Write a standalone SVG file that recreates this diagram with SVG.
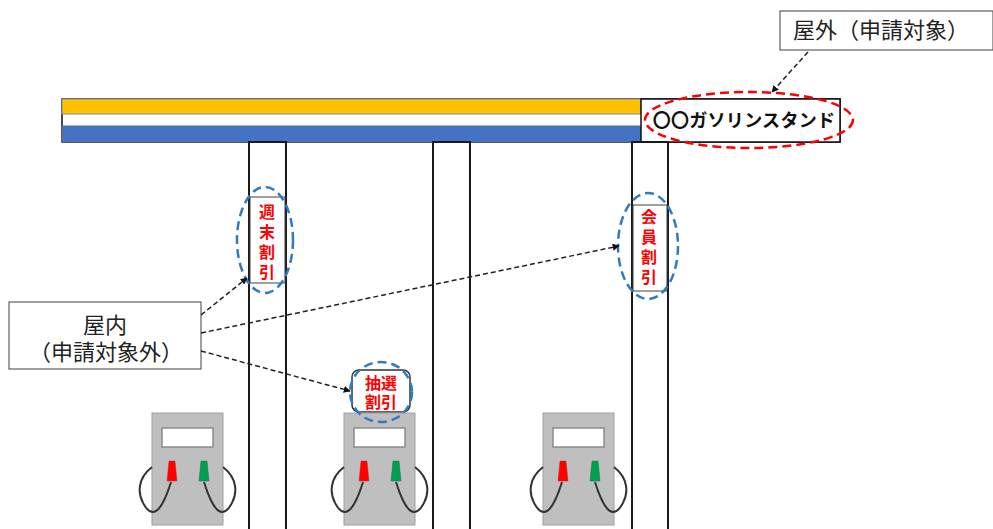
<svg xmlns="http://www.w3.org/2000/svg" width="993" height="529" viewBox="0 0 993 529">
  <style>
    .jp { font-family: "Noto Sans CJK JP", "Noto Sans", sans-serif; }
    .pillar { fill: #ffffff; stroke: #1a1a1a; stroke-width: 2; }
    .tag { fill: #ffffff; stroke: #404040; stroke-width: 1; }
    .tagtxt { fill: #ff0000; font-size: 16px; font-weight: bold; }
    .vert { writing-mode: vertical-rl; letter-spacing: 4px; }
    .box { fill: #ffffff; stroke: #404040; stroke-width: 1; }
    .boxtxt { fill: #222222; font-size: 22px; }
    .pump { fill: #bfbfbf; stroke: #a0a0a0; stroke-width: 1; }
    .screen { fill: #ffffff; stroke: #8c8c8c; stroke-width: 1.5; }
    .hose { fill: none; stroke: #333333; stroke-width: 2; }
    .blue-ring { fill: none; stroke: #2e7bc4; stroke-width: 2.5; stroke-dasharray: 9 5; }
    .red-ring { fill: none; stroke: #ff0000; stroke-width: 2.5; stroke-dasharray: 9 5; }
    .conn { fill: none; stroke: #222222; stroke-width: 1.5; stroke-dasharray: 5 3; }
  </style>
  <defs>
    <marker id="arrow" viewBox="0 0 10 10" refX="9" refY="5" markerWidth="7" markerHeight="7" orient="auto" markerUnits="userSpaceOnUse">
      <path d="M0,0 L10,5 L0,10 z" fill="#111111"/>
    </marker>
    <!-- fuel pump drawn with its top-left corner at 0,0 -->
    <g id="pump-shape">
      <rect class="pump" x="0" y="0" width="71" height="112"/>
      <rect class="screen" x="10" y="15" width="51" height="19"/>
      <path d="M17,48 L23,48 L25,68 L15,68 z" fill="#ff0000" stroke="#b03030" stroke-width="0.5"/>
      <path d="M49,48 L55,48 L57,68 L47,68 z" fill="#00a050" stroke="#207040" stroke-width="0.5"/>
      <path class="hose" d="M19,69 C15,82 8,99 1,99 C-6,99 -14,84 -12,73 C-11,65 -5,58 0,54"/>
      <path class="hose" d="M52,69 C56,82 63,99 70,99 C77,99 85,84 83,73 C82,65 76,58 71,54"/>
    </g>
  </defs>

  <!-- canopy -->
  <g id="canopy">
    <rect x="62" y="99" width="778" height="43" fill="#ffffff" stroke="#111111" stroke-width="1.5"/>
    <rect x="62" y="99" width="579" height="15" fill="#ffc000" stroke="#7f8fa6" stroke-width="1"/>
    <rect x="62" y="126" width="579" height="16" fill="#4472c4" stroke="#5b6f94" stroke-width="1"/>
  </g>

  <!-- station name board -->
  <g id="sign">
    <rect x="641" y="99" width="199" height="43" fill="#ffffff" stroke="#111111" stroke-width="1.5"/>
    <text class="jp" x="744" y="127" font-size="18" font-weight="bold" fill="#111111" text-anchor="middle" letter-spacing="0.3">〇〇ガソリンスタンド</text>
  </g>

  <!-- pillars -->
  <g id="pillar-1"><rect class="pillar" x="249" y="142" width="37" height="392"/></g>
  <g id="pillar-2"><rect class="pillar" x="433" y="142" width="37" height="392"/></g>
  <g id="pillar-3"><rect class="pillar" x="632" y="142" width="36" height="392"/></g>

  <!-- discount tags -->
  <g id="tag-weekend">
    <rect class="tag" x="250" y="197" width="35" height="86"/>
    <text class="jp tagtxt vert" x="267" y="204">週末割引</text>
  </g>
  <g id="tag-member">
    <rect class="tag" x="633" y="205" width="34" height="86"/>
    <text class="jp tagtxt vert" x="649" y="209">会員割引</text>
  </g>
  <g id="tag-lottery">
    <rect x="352" y="370" width="58" height="42" rx="7" fill="#ffffff" stroke="#333333" stroke-width="1.5"/>
    <text class="jp tagtxt" text-anchor="middle"><tspan x="381" y="389">抽選</tspan><tspan x="381" y="408">割引</tspan></text>
  </g>

  <!-- pumps -->
  <g id="pump-1"><use href="#pump-shape" x="152" y="413"/></g>
  <g id="pump-2"><use href="#pump-shape" x="344" y="413"/></g>
  <g id="pump-3"><use href="#pump-shape" x="543" y="413"/></g>

  <!-- highlight rings -->
  <g id="rings">
    <ellipse class="blue-ring" cx="265" cy="240" rx="28" ry="53"/>
    <ellipse class="blue-ring" cx="648" cy="246" rx="30" ry="53"/>
    <ellipse class="blue-ring" cx="381" cy="392" rx="31" ry="30"/>
    <ellipse class="red-ring" cx="749" cy="120" rx="104" ry="28"/>
  </g>

  <!-- callout boxes -->
  <g id="label-outdoor">
    <rect class="box" x="780" y="11" width="213" height="39"/>
    <text class="jp boxtxt" x="793" y="38">屋外（申請対象）</text>
  </g>
  <g id="label-indoor">
    <rect class="box" x="9" y="302" width="192" height="67"/>
    <text class="jp boxtxt" text-anchor="middle"><tspan x="105" y="333">屋内</tspan><tspan x="106" y="360">（申請対象外）</tspan></text>
  </g>

  <!-- connectors -->
  <g id="connectors">
    <line class="conn" x1="808" y1="52" x2="772" y2="92" marker-end="url(#arrow)"/>
    <line class="conn" x1="201" y1="315" x2="247" y2="278" marker-end="url(#arrow)"/>
    <line class="conn" x1="201" y1="333" x2="619" y2="246" marker-end="url(#arrow)"/>
    <line class="conn" x1="201" y1="351" x2="350" y2="391" marker-end="url(#arrow)"/>
  </g>
</svg>
